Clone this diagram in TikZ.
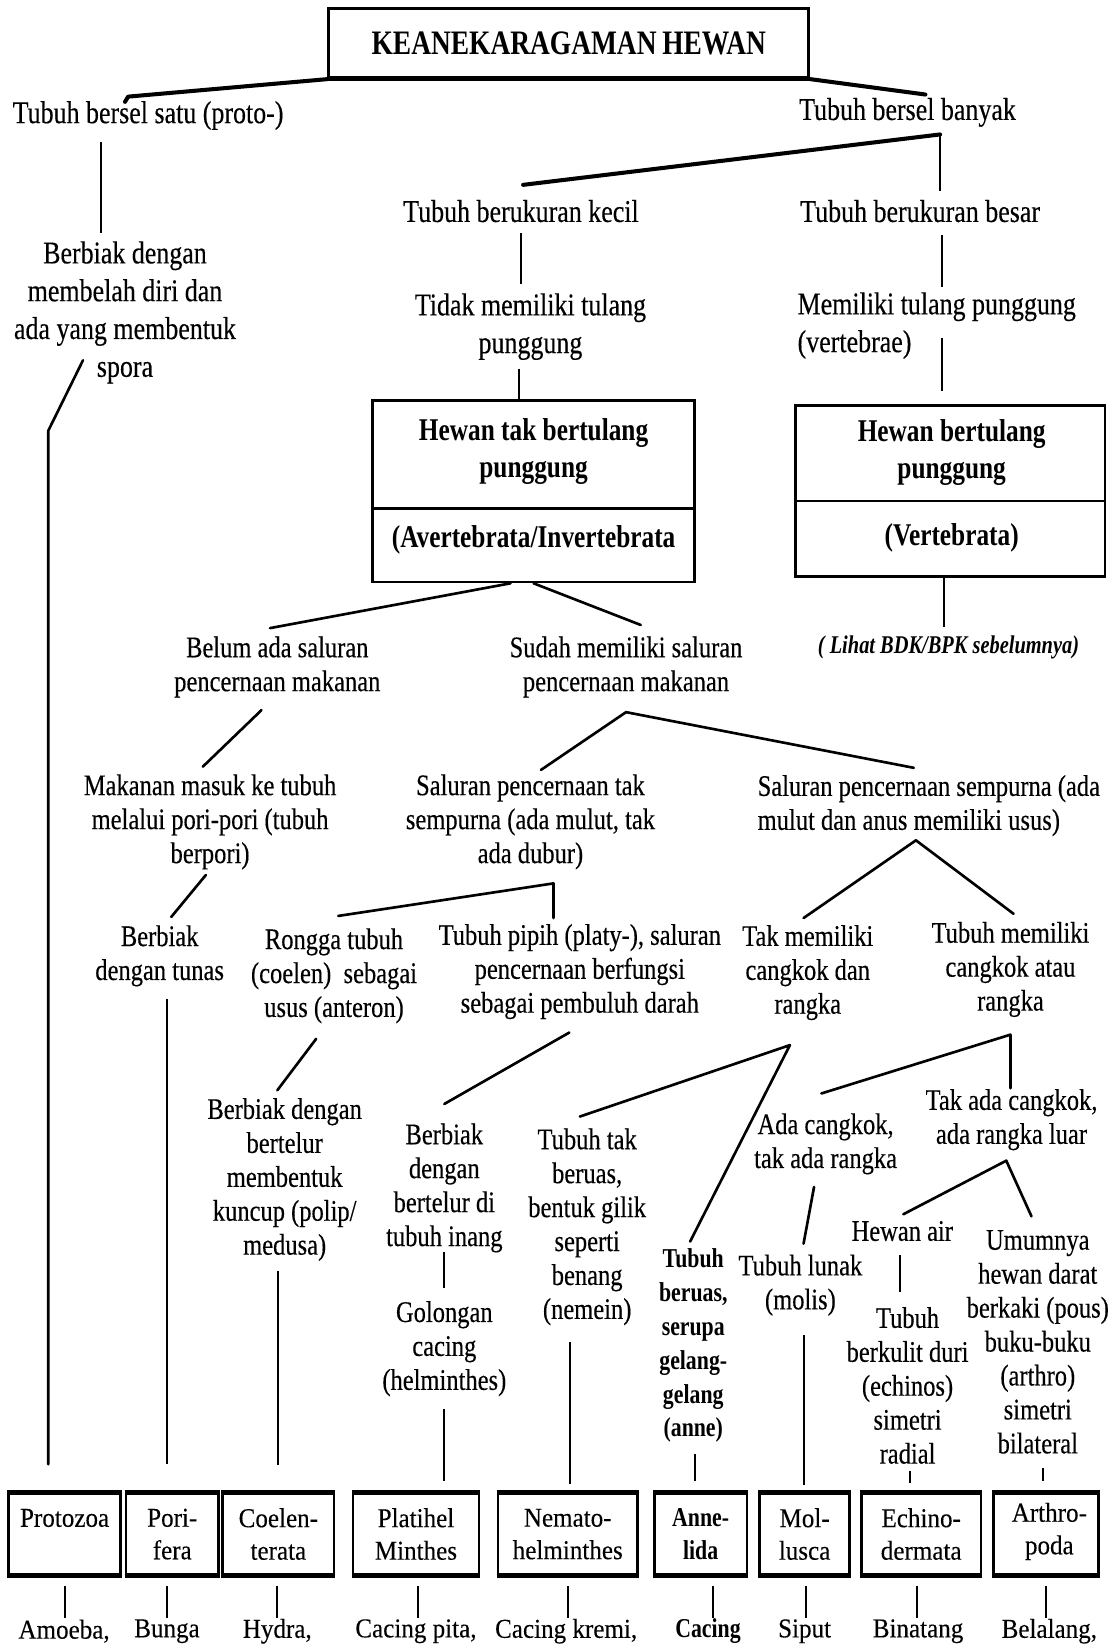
\documentclass[tikz,border=0pt]{standalone}
\usepackage{fontspec}
\setmainfont{Liberation Serif}
\newfontfamily\txtfont{Liberation Serif}[FakeStretch=0.82, FakeBold=0.3]
\newfontfamily\headfont{Liberation Serif}[FakeStretch=0.80]
\newfontfamily\taxfont{Liberation Serif}[FakeStretch=0.92, FakeBold=0.2]
\newlength\pxu
\setlength\pxu{0.021cm}
\tikzset{
  lbl/.style={inner sep=0pt, align=center, font={\txtfont\fontsize{18}{21.5}\selectfont}},
  lbs/.style={inner sep=0pt, align=center, font={\txtfont\fontsize{17}{19.3}\selectfont}},
  lbb/.style={inner sep=0pt, align=center, font={\headfont\bfseries\fontsize{15.5}{19.3}\selectfont}},
  boxhead/.style={inner sep=0pt, align=center, font={\headfont\bfseries\fontsize{18}{21}\selectfont}},
  note/.style={inner sep=0pt, font={\headfont\bfseries\itshape\fontsize{14.5}{17}\selectfont}},
  frame/.style={draw, line width=1.6pt, inner sep=0pt},
  taxon/.style={draw, line width=1.5pt, inner sep=0pt, minimum height=77\pxu, align=center,
    font={\taxfont\fontsize{15.5}{18.5}\selectfont}},
  taxtext/.style={inner sep=0pt, align=center, font={\taxfont\fontsize{15.5}{18.5}\selectfont}},
  example/.style={inner sep=0pt, font={\taxfont\fontsize{15.5}{18.5}\selectfont}},
  conn/.style={line width=1.5pt, line cap=round, line join=round},
  heavy/.style={line width=2.3pt, line cap=round, line join=round},
  vline/.style={line width=1.1pt}
}
\begin{document}
\begin{tikzpicture}[x=0.021cm, y=-0.021cm]
\useasboundingbox (0,0) rectangle (1062,1568);
\fill[white] (0,0) rectangle (1062,1568);

% ---- title ----
\node[frame, minimum width=457\pxu, minimum height=66\pxu,
      font={\headfont\bfseries\fontsize{19.5}{22}\selectfont}] (title) at (541.5,41) {KEANEKARAGAMAN\,HEWAN};
\draw[line width=2.4pt] (title.south west) -- (title.south east);

% ---- first split ----
\node[lbl] (uni) at (141,110) {Tubuh bersel satu (proto-)};
\node[lbl] (multi) at (864,107) {Tubuh bersel banyak};
\draw[heavy] (title.south west) -- (122,92) -- (119,97);
\draw[heavy] (title.south east) -- (881,90);

\node[lbl] (fission) at (119,297.5) {Berbiak dengan\\membelah diri dan\\ada yang membentuk\\spora};
\draw[vline] (96,135) -- (96,222);

\node[lbl] (small) at (496,201) {Tubuh berukuran kecil};
\node[lbl] (large) at (876,201) {Tubuh berukuran besar};
\draw[heavy] (895,128) -- (498,176);
\draw[vline] (895,128) -- (895,182);

\node[lbl] (noback) at (505,311) {Tidak memiliki tulang\\punggung};
\node[lbl, anchor=west, align=left] (back) at (759,310) {Memiliki tulang punggung\\(vertebrae)};
\draw[vline] (496,222) -- (496,270);
\draw[vline] (897,224) -- (897,273);
\draw[vline] (897,322) -- (897,372);

% ---- invertebrate / vertebrate boxes ----
\node[frame, minimum width=306\pxu, minimum height=173\pxu] (inv) at (508,467.5) {};
\draw[line width=1.6pt] (inv.west |- 0,484) -- (inv.east |- 0,484);
\node[boxhead] (invA) at (508,430) {Hewan tak bertulang\\punggung};
\node[boxhead] (invB) at (508,514) {(Avertebrata/Invertebrata};
\draw[vline] (494,351) -- (inv.north -| 494,0);

\node[frame, minimum width=295\pxu, minimum height=163\pxu] (vert) at (904.5,467.5) {};
\draw[line width=1.6pt] (vert.west |- 0,477) -- (vert.east |- 0,477);
\node[boxhead] (vertA) at (906,430.5) {Hewan bertulang\\punggung};
\node[boxhead] (vertB) at (906,512) {(Vertebrata)};
\node[note] (seeprev) at (903,616) {( Lihat BDK/BPK sebelumnya)};
\draw[vline] (vert.south -| 899,0) -- (899,597);

% ---- digestive tract ----
\node[lbs] (nogut) at (264,635) {Belum ada saluran\\pencernaan makanan};
\node[lbs] (gut) at (596,635) {Sudah memiliki saluran\\pencernaan makanan};
\draw[conn] (inv.south -| 486,0) -- (257,598);
\draw[conn] (inv.south -| 508,0) -- (610,595);

\node[lbs] (pores) at (200,782.5) {Makanan masuk ke tubuh\\melalui pori-pori (tubuh\\berpori)};
\node[lbs] (halfgut) at (505,782.5) {Saluran pencernaan tak\\sempurna (ada mulut, tak\\ada dubur)};
\node[lbs, anchor=west, align=left] (fullgut) at (721,767) {Saluran pencernaan sempurna (ada\\mulut dan anus memiliki usus)};
\draw[conn] (249,676) -- (193,730);
\draw[conn] (515,733) -- (596,678) -- (870,731);

% ---- body plans ----
\node[lbs] (bud) at (152,910) {Berbiak\\dengan tunas};
\node[lbs] (coel) at (318,929) {Rongga tubuh\\(coelen)\ \ sebagai\\usus (anteron)};
\node[lbs] (flat) at (552,925) {Tubuh pipih (platy-), saluran\\pencernaan berfungsi\\sebagai pembuluh darah};
\node[lbs] (noshell) at (769,926) {Tak memiliki\\cangkok dan\\rangka};
\node[lbs] (shell) at (962,923) {Tubuh memiliki\\cangkok atau\\rangka};
\draw[conn] (196,833) -- (163,873);
\draw[conn] (322,872) -- (527,841) -- (527,874);
\draw[conn] (765,874) -- (872,800) -- (965,870);

\node[lbs] (polyp) at (271,1123) {Berbiak dengan\\bertelur\\membentuk\\kuncup (polip/\\medusa)};
\node[lbs] (host) at (423,1131) {Berbiak\\dengan\\bertelur di\\tubuh inang};
\node[lbs] (round) at (559,1168) {Tubuh tak\\beruas,\\bentuk gilik\\seperti\\benang\\(nemein)};
\node[lbs] (soft1) at (786,1089) {Ada cangkok,\\tak ada rangka};
\node[lbs] (exo) at (963,1066) {Tak ada cangkok,\\ada rangka luar};
\draw[conn] (301,989) -- (264,1038);
\draw[conn] (542,983) -- (423,1051);
\draw[conn] (552,1063) -- (752,995) -- (657,1182);
\draw[conn] (782,1041) -- (962,985) -- (962,1036);
\draw[conn] (775,1130) -- (765,1184);
\draw[conn] (860,1156) -- (958,1105) -- (982,1158);

\node[lbs] (worm) at (423,1284) {Golongan\\cacing\\(helminthes)};
\node[lbb] (ring) at (660,1281) {Tubuh\\beruas,\\serupa\\gelang-\\gelang\\(anne)};
\node[lbs] (softb) at (762,1223.5) {Tubuh lunak\\(molis)};
\node[lbs] (water) at (859,1172) {Hewan air};
\node[lbs] (spiny) at (864,1319) {Tubuh\\berkulit duri\\(echinos)\\simetri\\radial};
\node[lbs] (land) at (988,1277.5) {Umumnya\\hewan darat\\berkaki (pous)\\buku-buku\\(arthro)\\simetri\\bilateral};
\draw[vline] (423,1192) -- (423,1226);
\draw[vline] (857,1195) -- (857,1230);

% ---- phyla ----
\node[taxon, minimum width=107\pxu] (protozoa) at (61.5,1460.5) {Protozoa\\\phantom{X}};
\node[taxon, minimum width=88\pxu] (porifera) at (164,1460.5) {Pori-\\fera};
\node[taxon, minimum width=106\pxu] (coelenterata) at (265,1460.5) {Coelen-\\terata};
\node[taxon, minimum width=120\pxu] (platy) at (396,1460.5) {Platihel\\Minthes};
\node[taxon, minimum width=133\pxu] (nemato) at (540.5,1460.5) {Nemato-\\helminthes};
\node[taxon, minimum width=88\pxu, font={\headfont\bfseries\fontsize{15.5}{18.5}\selectfont}] (annelida) at (667,1460.5) {Anne-\\lida};
\node[taxon, minimum width=86\pxu] (mollusca) at (766,1460.5) {Mol-\\lusca};
\node[taxon, minimum width=114\pxu] (echino) at (877,1460.5) {Echino-\\dermata};
\node[taxon, minimum width=100\pxu] (arthro) at (996,1460.5) {};
\node[taxtext] (arthrotext) at (999,1458) {Arthro-\\poda\vphantom{g}};
\foreach \b in {protozoa,porifera,coelenterata,platy,nemato,annelida,mollusca,echino,arthro}{
  \draw[line width=2.1pt] (\b.north west) -- (\b.north east);
  \draw[line width=2.1pt] (\b.south west) -- (\b.south east);
}

% lines down to the phyla
\draw[conn] (79,343) -- (46,410) -- (46,1394);
\draw[vline] (159,951) -- (159,1394);
\draw[vline] (265,1210) -- (265,1395);
\draw[vline] (423,1341) -- (423,1410);
\draw[vline] (543,1278) -- (543,1413);
\draw[vline] (662,1384) -- (662,1410);
\draw[vline] (765,1271) -- (765,1414);
\draw[vline] (866,1400) -- (866,1412);
\draw[vline] (993,1398) -- (993,1410);

% ---- examples ----
\foreach \x in {62,159,264,398,541,679,767,873,996}{
  \draw[vline] (\x,1510) -- (\x,1540);
}
\node[example] (ex1) at (61,1553) {Amoeba,};
\node[example] (ex2) at (159,1553) {Bunga};
\node[example] (ex3) at (264,1553) {Hydra,};
\node[example] (ex4) at (396,1553) {Cacing pita,};
\node[example] (ex5) at (539,1553) {Cacing kremi,};
\node[example, font={\headfont\bfseries\fontsize{15.5}{18.5}\selectfont}] (ex6) at (674,1553) {Cacing};
\node[example] (ex7) at (766,1553) {Siput};
\node[example] (ex8) at (874,1553) {Binatang};
\node[example] (ex9) at (999,1553) {Belalang,};
\end{tikzpicture}
\end{document}
